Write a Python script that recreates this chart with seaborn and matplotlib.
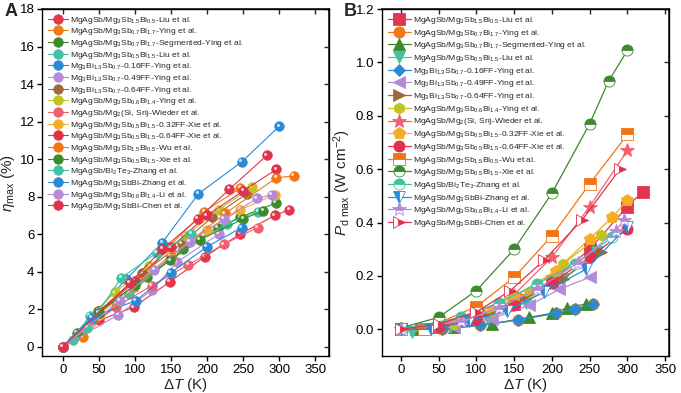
import matplotlib
matplotlib.use("Agg")
import matplotlib.pyplot as plt
import matplotlib.transforms as mtransforms
import seaborn as sns
import numpy as np

sns.set_theme(style="ticks")
plt.rcParams['font.family'] = ['Liberation Sans', 'DejaVu Sans']
plt.rcParams['mathtext.fontset'] = 'custom'
plt.rcParams['mathtext.rm'] = 'Liberation Sans'
plt.rcParams['mathtext.it'] = 'Liberation Sans:italic'
plt.rcParams['mathtext.default'] = 'regular'

# ---------------- labels ----------------
labels = [
    r'MgAgSb/Mg$_3$Sb$_{1.5}$Bi$_{0.5}$-Liu et al.',
    r'MgAgSb/Mg$_3$Sb$_{0.7}$Bi$_{1.7}$-Ying et al.',
    r'MgAgSb/Mg$_3$Sb$_{0.7}$Bi$_{1.7}$-Segmented-Ying et al.',
    r'MgAgSb/Mg$_3$Sb$_{0.5}$Bi$_{1.5}$-Liu et al.',
    r'Mg$_3$Bi$_{1.3}$Sb$_{0.7}$-0.16FF-Ying et al.',
    r'Mg$_3$Bi$_{1.3}$Sb$_{0.7}$-0.49FF-Ying et al.',
    r'Mg$_3$Bi$_{1.3}$Sb$_{0.7}$-0.64FF-Ying et al.',
    r'MgAgSb/Mg$_3$Sb$_{0.6}$Bi$_{1.4}$-Ying et al.',
    r'MgAgSb/Mg$_2$(Si, Sn)-Wieder et al.',
    r'MgAgSb/Mg$_3$Sb$_{0.5}$Bi$_{1.5}$-0.32FF-Xie et al.',
    r'MgAgSb/Mg$_3$Sb$_{0.5}$Bi$_{1.5}$-0.64FF-Xie et al.',
    r'MgAgSb/Mg$_3$Sb$_{1.5}$Bi$_{0.5}$-Wu et al.',
    r'MgAgSb/Mg$_3$Sb$_{0.5}$Bi$_{1.5}$-Xie et al.',
    r'MgAgSb/Bi$_2$Te$_3$-Zhang et al.',
    r'MgAgSb/Mg$_3$SbBi-Zhang et al.',
    r'MgAgSb/Mg$_3$Sb$_{0.6}$Bi$_{1.4}$-Li et al.',
    r'MgAgSb/Mg$_3$SbBi-Chen et al.',
]
colors = ['#e2364e', '#f27a12', '#3b8a2c', '#43c2a2', '#2a8ad8', '#b48ad8',
          '#9a6a3c', '#c2c222', '#f0606e', '#f6ac24', '#e0304a', '#f27412',
          '#3b8a2c', '#43c2a2', '#2a8ad8', '#b48ad8', '#e0324a']

# ---------------- panel A data (dT, eta_max) ----------------
A_T = [
    [0, 50, 98, 148, 197, 246, 294, 314],
    [0, 28, 99, 146, 196, 246],
    [0, 19, 49, 117, 167, 215, 246, 295],
    [0, 14, 37, 92, 150, 227, 271],
    [0, 88, 138, 188, 248, 300],
    [0, 77, 123, 158, 216],
    [0, 50, 110, 165, 207, 255],
    [0, 72, 120, 170, 216, 262],
    [0, 73, 123, 174, 223, 270],
    [0, 50, 100, 150, 200, 246, 294],
    [0, 50, 100, 150, 200, 250, 296],
    [0, 75, 150, 225, 296, 320],
    [0, 50, 100, 149, 190, 250, 278],
    [0, 34, 81, 130, 178],
    [0, 40, 101, 150, 200, 248],
    [0, 79, 127, 176, 223, 269, 290],
    [0, 93, 138, 187, 231, 283],
]
A_eta = [
    [0, 1.4, 2.1, 3.45, 4.8, 6.0, 7.0, 7.3],
    [0, 0.5, 3.2, 5.3, 7.2, 8.45],
    [0, 0.74, 1.9, 3.7, 5.2, 6.35, 6.9, 7.65],
    [0, 0.37, 1.65, 2.8, 4.7, 6.55, 7.2],
    [0, 3.6, 5.55, 8.15, 9.85, 11.75],
    [0, 1.7, 3.0, 4.5, 6.0],
    [0, 1.9, 3.9, 5.5, 6.9, 8.15],
    [0, 2.9, 4.3, 5.9, 7.3, 8.5],
    [0, 2.1, 3.25, 4.37, 5.45, 6.35],
    [0, 1.7, 3.3, 4.9, 6.2, 7.3, 8.1],
    [0, 1.8, 3.5, 5.3, 7.0, 8.3, 9.45],
    [0, 2.3, 4.8, 7.1, 9.0, 9.1],
    [0, 1.8, 3.3, 4.6, 5.7, 6.8, 7.25],
    [0, 1.0, 3.67, 5.0, 6.0],
    [0, 1.55, 2.45, 3.95, 5.33, 6.35],
    [0, 2.45, 4.1, 5.6, 6.8, 7.9, 8.1],
    [0, 3.4, 5.2, 6.8, 8.4, 10.2],
]

# ---------------- panel B data (dT, P_d max) ----------------
B_T = [
    [0, 50, 100, 150, 200, 250, 300, 320],
    [0, 55, 105, 155, 205, 230, 255],
    [0, 20, 70, 120, 170, 200, 220, 245],
    [0, 15, 65, 115, 165, 215, 260],
    [0, 55, 105, 155, 205, 230, 255],
    [0, 70, 120, 170, 210, 250],
    [0, 60, 110, 160, 215, 265],
    [0, 70, 120, 170, 215, 265],
    [0, 50, 100, 150, 200, 250, 300],
    [0, 50, 100, 150, 205, 250, 280, 300],
    [0, 50, 100, 150, 200, 250, 300],
    [0, 30, 100, 150, 200, 250, 300],
    [0, 50, 100, 150, 200, 250, 275, 300],
    [0, 80, 130, 180, 230, 280],
    [0, 40, 90, 140, 190, 245, 300],
    [0, 80, 130, 180, 235, 285, 295],
    [0, 50, 100, 145, 190, 240, 290],
]
B_P = [
    [0, 0.01, 0.04, 0.095, 0.18, 0.30, 0.46, 0.515],
    [0, 0.0, 0.015, 0.035, 0.06, 0.075, 0.095],
    [0, 0.0, 0.01, 0.02, 0.045, 0.06, 0.08, 0.095],
    [0, -0.01, 0.01, 0.04, 0.10, 0.19, 0.29],
    [0, 0.0, 0.015, 0.035, 0.06, 0.075, 0.095],
    [0, 0.01, 0.04, 0.09, 0.15, 0.195],
    [0, 0.02, 0.06, 0.12, 0.19, 0.29],
    [0, 0.02, 0.07, 0.14, 0.245, 0.355],
    [0, 0.02, 0.06, 0.13, 0.27, 0.46, 0.67],
    [0, 0.01, 0.05, 0.12, 0.22, 0.34, 0.42, 0.485],
    [0, 0.01, 0.04, 0.09, 0.175, 0.27, 0.375],
    [0, 0.0, 0.085, 0.195, 0.35, 0.545, 0.73],
    [0.005, 0.045, 0.145, 0.30, 0.51, 0.77, 0.93, 1.045],
    [0, 0.045, 0.10, 0.17, 0.245, 0.345],
    [0, 0.0, 0.03, 0.07, 0.14, 0.225, 0.385],
    [0, 0.03, 0.08, 0.15, 0.25, 0.37, 0.41],
    [0, 0.02, 0.065, 0.145, 0.26, 0.41, 0.60],
]
B_markers = ['s', 'o', '^', 'v', 'D', '<', '>', 'h', '*', 'p', 'o', 's', 'o', 'o', 'v', '*', '>']
B_fill = ['full', 'full', 'full', 'full', 'full', 'full', 'full', 'full', 'full', 'full',
          'full', 'top', 'top', 'top', 'left', 'top', 'right']
B_msize = [8, 8, 8, 8, 6, 8, 8, 8, 10, 9, 8, 8, 8, 8, 8, 10, 8]

fig = plt.figure(figsize=(6.81, 3.93), dpi=100)
axA = fig.add_axes([42/681, 1-356/393, (329-42)/681, (356-9)/393])
axB = fig.add_axes([382/681, 1-356/393, (669-382)/681, (356-9)/393])

hl = mtransforms.offset_copy(axA.transData, fig=fig, x=-1.2, y=1.2, units='points')
for i in range(17):
    sns.lineplot(x=A_T[i], y=A_eta[i], ax=axA, color=colors[i], lw=0.8,
                 marker='o', markersize=7, markeredgecolor=colors[i],
                 markeredgewidth=0.4, label=labels[i], estimator=None, sort=False)
    axA.plot(A_T[i], A_eta[i], ls='none', marker='o', markersize=2.2,
             color='white', alpha=0.75, transform=hl, markeredgewidth=0)

for i in range(17):
    sns.lineplot(x=B_T[i], y=B_P[i], ax=axB, color=colors[i], lw=0.9,
                 marker=B_markers[i], markersize=B_msize[i], fillstyle=B_fill[i],
                 markerfacecoloralt='white', markeredgecolor=colors[i],
                 markeredgewidth=0.6, label=labels[i], estimator=None, sort=False)

xt = np.arange(0, 351, 50)
for ax in (axA, axB):
    ax.tick_params(direction='out', top=False, right=False, length=3.5, width=1,
                   labelsize=9.5, pad=2, colors='black')
    for s in ax.spines.values():
        s.set_linewidth(1.0)
        s.set_color('black')
    ax.set_xticks(xt)
    ax.set_xlabel(r'$\mathit{\Delta T}$ (K)', fontsize=11, labelpad=0)

axA.set_xlim(-29, 369)
axA.set_ylim(-0.5, 18)
ytA = np.arange(0, 19, 2)
axA.set_yticks(ytA)
axA.set_ylabel(r'$\mathit{\eta}_{max}$ (%)', fontsize=11, labelpad=2)

axB.set_xlim(-25, 355)
axB.set_ylim(-0.1, 1.2)
ytB = np.arange(0, 1.21, 0.2)
axB.set_yticks(ytB)
axB.set_yticklabels([f'{v:.1f}' for v in ytB])
axB.set_ylabel(r'$\mathit{P}_{d\ max}$ (W cm$^{-2}$)', fontsize=11, labelpad=2)

# inward ticks on top and right
for ax, yt in ((axA, ytA), (axB, ytB)):
    sx = ax.secondary_xaxis('top')
    sx.set_xticks(xt)
    sx.tick_params(direction='in', length=3.5, width=1, labeltop=False)
    sy = ax.secondary_yaxis('right')
    sy.set_yticks(yt)
    sy.tick_params(direction='in', length=3.5, width=1, labelright=False)

legA = axA.legend(loc='upper left', bbox_to_anchor=(0.0, 1.0), frameon=False,
                  fontsize=6.1, labelspacing=0.08, handlelength=2.4,
                  handletextpad=0.3, borderaxespad=0.25)
legB = axB.legend(loc='upper left', bbox_to_anchor=(0.0, 1.0), frameon=False,
                  fontsize=6.1, labelspacing=0.2, handlelength=2.7,
                  handletextpad=0.3, borderaxespad=0.3)

fig.text(5/681, 1-12/393, 'A', fontsize=13, fontweight='bold', va='center', ha='left')
fig.text(344/681, 1-12/393, 'B', fontsize=13, fontweight='bold', va='center', ha='left')

fig.savefig('out.png', dpi=100)
